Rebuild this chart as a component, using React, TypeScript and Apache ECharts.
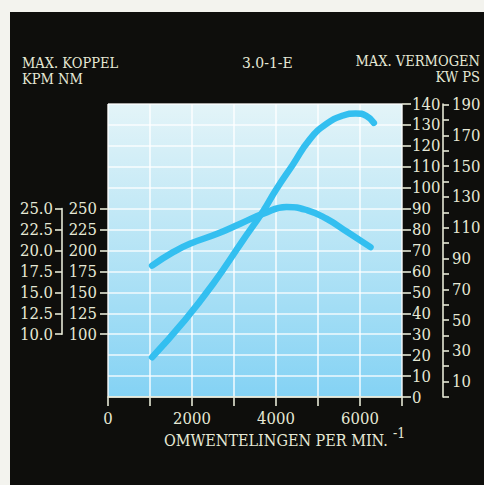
import React, { useEffect, useRef } from "react";
import * as echarts from "echarts";

// Power curve (kW) vs rpm
const powerRpm = [1050, 1800, 2500, 3200, 3700, 4000, 4400, 4800, 5200, 5600, 5900, 6150, 6330];
const powerKw = [19, 36, 54, 74.5, 89, 99, 111, 123, 130.5, 134.5, 135.5, 134.3, 131];

// Torque curve (Nm) vs rpm
const torqueRpm = [1050, 1550, 1950, 2600, 3150, 3700, 4250, 4750, 5200, 5700, 6250];
const torqueNm = [182, 198, 208, 220, 232, 244, 252, 248, 238, 222, 204];

const nmTicks = [100, 125, 150, 175, 200, 225, 250];
const xLabelTicks = [0, 2000, 4000, 6000];

const FONT = "'DejaVu Serif Condensed', 'DejaVu Serif', serif";
const CREAM = "#e6e9d6";
const LINE = "#33bff0";

export default function App() {
  const ref = useRef<HTMLDivElement>(null);
  useEffect(() => {
    if (!ref.current) return;
    const chart = echarts.init(ref.current, undefined, { renderer: "svg" });
    const gT = 92, gH = 293, gL = 98, gW = 294;
    const g1Top = gT + (gH * 50) / 140;
    const g1H = (gH * 60) / 140;
    const labelStyle = { color: CREAM, fontFamily: FONT, fontSize: 16.5 };
    const axisLineStyle = { color: CREAM, width: 1.6 };
    const headStyle = { color: CREAM, fontFamily: FONT, fontSize: 14.5, fontWeight: "normal" as const };
    chart.setOption({
      animation: false,
      backgroundColor: "#0e0e0c",
      textStyle: { fontFamily: FONT },
      title: [
        { text: "MAX. KOPPEL", left: 12, top: 43, padding: 0, textStyle: headStyle },
        { text: "KPM NM", left: 12, top: 59, padding: 0, textStyle: headStyle },
        {
          text: "3.0-1-E",
          left: 232,
          top: 43,
          padding: 0,
          textStyle: { ...headStyle, fontSize: 15.5 },
        },
        { text: "MAX. VERMOGEN", left: 470, top: 41, padding: 0, textAlign: "right", textStyle: headStyle },
        { text: "KW PS", left: 470, top: 57, padding: 0, textAlign: "right", textStyle: headStyle },
        {
          text: "OMWENTELINGEN PER MIN.",
          left: 154,
          top: 420,
          padding: 0,
          textStyle: { ...headStyle, fontSize: 16 },
        },
        {
          text: "-1",
          left: 383,
          top: 414,
          padding: 0,
          textStyle: { ...headStyle, fontSize: 14 },
        },
      ],
      grid: [
        {
          left: gL,
          top: gT,
          width: gW,
          height: gH,
          show: true,
          borderWidth: 0,
          backgroundColor: new echarts.graphic.LinearGradient(0, 0, 0, 1, [
            { offset: 0, color: "#e3f4f8" },
            { offset: 0.35, color: "#c4e9f6" },
            { offset: 0.7, color: "#a2ddf5" },
            { offset: 1, color: "#84d2f4" },
          ]),
        },
        { left: gL, top: g1Top, width: gW, height: g1H, show: false },
      ],
      xAxis: [
        {
          type: "value",
          gridIndex: 0,
          min: 0,
          max: 7000,
          interval: 1000,
          axisLine: { show: true, onZero: false, lineStyle: axisLineStyle },
          axisTick: { show: true, length: 9, lineStyle: axisLineStyle },
          axisLabel: {
            ...labelStyle,
            margin: 13,
            formatter: (v: number) => (xLabelTicks.includes(v) ? String(v) : ""),
          },
          splitLine: { show: true, lineStyle: { color: "rgba(255,255,255,0.85)", width: 1.6 } },
        },
        { type: "value", gridIndex: 1, min: 0, max: 7000, show: false, axisLine: { onZero: false } },
      ],
      yAxis: [
        {
          // kW
          type: "value",
          gridIndex: 0,
          position: "right",
          min: 0,
          max: 140,
          interval: 10,
          axisLine: { show: false, onZero: false },
          axisTick: { show: true, length: 9, lineStyle: axisLineStyle },
          axisLabel: { ...labelStyle, margin: 10 },
          splitLine: { show: true, lineStyle: { color: "rgba(255,255,255,0.85)", width: 1.6 } },
        },
        {
          // Nm
          type: "value",
          gridIndex: 0,
          position: "left",
          min: 25,
          max: 375,
          interval: 25,
          axisLine: { show: false, onZero: false },
          axisTick: { show: true, length: 8, lineStyle: axisLineStyle, customValues: nmTicks },
          axisLabel: { ...labelStyle, margin: 11, customValues: nmTicks },
          splitLine: { show: false },
        },
        {
          // PS
          type: "value",
          gridIndex: 0,
          position: "right",
          offset: 41,
          min: 0,
          max: 190.4,
          interval: 10,
          axisLine: { show: true, onZero: false, lineStyle: axisLineStyle },
          axisTick: { show: true, length: 6, lineStyle: axisLineStyle },
          axisLabel: {
            ...labelStyle,
            margin: 9,
            showMaxLabel: false,
            formatter: (v: number) => (Math.round(v) === v && v % 20 === 10 ? String(v) : ""),
          },
          splitLine: { show: false },
        },
        {
          // kpm
          type: "value",
          gridIndex: 1,
          position: "left",
          offset: 46,
          min: 10,
          max: 25,
          interval: 2.5,
          axisLine: { show: true, onZero: false, lineStyle: axisLineStyle },
          axisTick: { show: true, length: 7, lineStyle: axisLineStyle },
          axisLabel: { ...labelStyle, margin: 9, formatter: (v: number) => v.toFixed(1) },
          splitLine: { show: false },
        },
      ],
      series: [
        {
          type: "line",
          name: "Vermogen",
          xAxisIndex: 0,
          yAxisIndex: 0,
          data: powerRpm.map((r, i) => [r, powerKw[i]]),
          smooth: 0.5,
          showSymbol: false,
          lineStyle: { color: LINE, width: 6.5, cap: "round" },
          clip: false,
        },
        {
          type: "line",
          name: "Koppel",
          xAxisIndex: 0,
          yAxisIndex: 1,
          data: torqueRpm.map((r, i) => [r, torqueNm[i]]),
          smooth: 0.5,
          showSymbol: false,
          lineStyle: { color: LINE, width: 6.5, cap: "round" },
          clip: false,
        },
      ],
    });
    return () => chart.dispose();
  }, []);
  return (
    <div style={{ position: "fixed", left: 0, top: 0, width: 484, height: 485, background: "#f3f3ee" }}>
      <div ref={ref} style={{ position: "absolute", left: 10, top: 12, width: 474, height: 473 }} />
    </div>
  );
}
